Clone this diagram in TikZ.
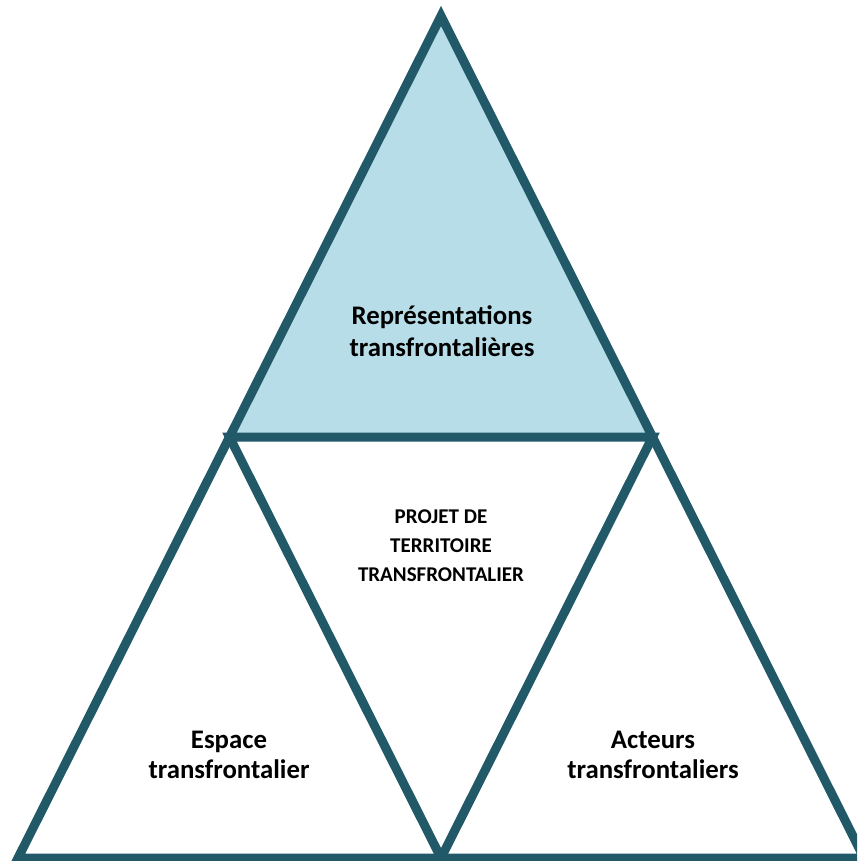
\documentclass[tikz,border=0pt]{standalone}
\usepackage{fontspec}
\setmainfont{Carlito}
\definecolor{edge}{HTML}{215968}
\definecolor{topfill}{HTML}{B7DEE8}
\begin{document}
\begin{tikzpicture}[x=1pt,y=-1pt,
  tri/.style={draw=edge,line width=9pt,line join=miter},
  lbl/.style={font=\bfseries,align=center,text=black,inner sep=0pt}]
\useasboundingbox (0,0) rectangle (857,861);
\clip (0,0) rectangle (857,861);
\coordinate (A) at (441,16);
\coordinate (BL) at (18,858);
\coordinate (BR) at (864,858);
\coordinate (ML) at (229.5,437);
\coordinate (MR) at (652.5,437);
\coordinate (MB) at (441,858);
\fill[topfill] (A) -- (ML) -- (MR) -- cycle;
\draw[tri] (A) -- (BL) -- (BR) -- cycle;
\draw[tri] (ML) -- (MR) -- (MB) -- cycle;
\node[lbl,font=\fontsize{26.8}{32}\selectfont\bfseries] (rep) at (442,331) {Représentations\\transfrontalières};
\node[lbl,font=\fontsize{21}{29}\selectfont\bfseries] (proj) at (441,546) {PROJET DE\\TERRITOIRE\\TRANSFRONTALIER};
\node[lbl,font=\fontsize{26.8}{30}\selectfont\bfseries] (esp) at (229,755) {Espace\\transfrontalier};
\node[lbl,font=\fontsize{26.8}{30}\selectfont\bfseries] (act) at (653,755) {Acteurs\\transfrontaliers};
\end{tikzpicture}
\end{document}
